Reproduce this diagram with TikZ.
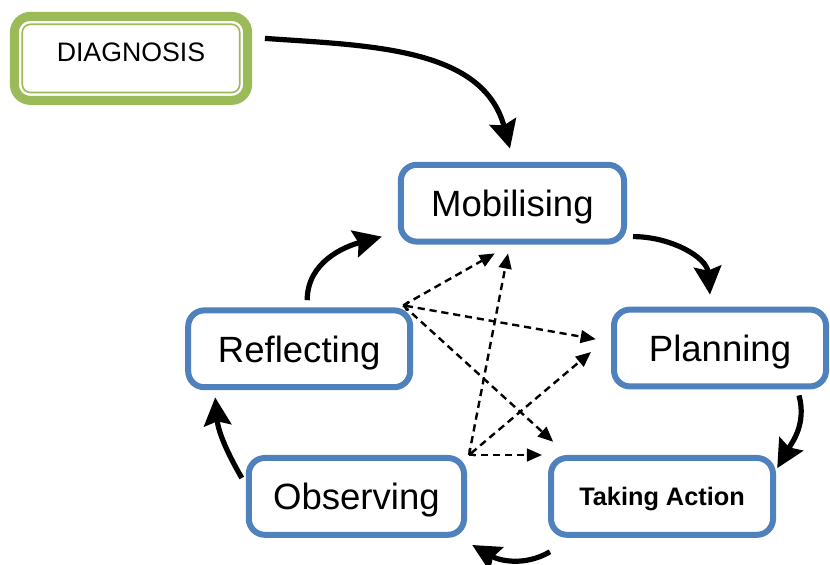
\documentclass[tikz,border=0pt]{standalone}
\usepackage{fontspec}
\setmainfont{Liberation Sans}
\usepackage{tikz}
\usetikzlibrary{arrows.meta}
\definecolor{stageblue}{RGB}{79,129,189}
\definecolor{diaggreen}{RGB}{155,187,89}

\begin{document}
\begin{tikzpicture}
     [
     >={Triangle[length=0.38cm,width=0.32cm]},
     diagbox/.style={rectangle, rounded corners=0.4cm, draw=diaggreen, fill=white, line width=0.225cm, minimum width=5.83cm, minimum height=2.1cm, font=\fontsize{19}{22}\selectfont, text depth=0.33cm},
     stagebox/.style={rectangle, rounded corners=0.4cm, draw=stageblue, fill=white, line width=0.15cm, minimum height=1.92cm, font=\fontsize{26}{30}\selectfont, text depth=0pt},
     cyclearrow/.style={line width=0.13cm, -{Stealth[length=0.7cm,width=0.68cm,inset=0.1cm]}},
     linkarrow/.style={line width=0.06cm, dash pattern=on 0.18cm off 0.12cm, ->},
     ]
 \useasboundingbox (0,0) rectangle (20.75,-14.125);
 \node at (3.275,-1.46) [diagbox] (diag) {DIAGNOSIS};
 \draw[diaggreen, line width=0.04cm, rounded corners=0.2cm] ([shift={(0.31,-0.31)}]diag.north west) rectangle ([shift={(-0.31,0.31)}]diag.south east);
 \node at (12.81,-5.08) [stagebox, minimum width=5.58cm] (mob) {Mobilising};
 \node at (18.0,-8.70) [stagebox, minimum width=5.3cm] (plan) {Planning};
 \node at (16.55,-12.41) [stagebox, minimum width=5.55cm, font=\fontsize{18}{22}\selectfont\bfseries] (act) {Taking Action};
 \node at (8.91,-12.41) [stagebox, minimum width=5.38cm] (obs) {Observing};
 \node at (7.48,-8.72) [stagebox, minimum width=5.55cm] (refl) {Reflecting};

 % the cycle
 \draw[cyclearrow] ([shift={(0.32,0.5)}]diag.east) to[out=-4,in=105] ([shift={(-0.06,0.33)}]mob.north);
 \draw[cyclearrow] ([shift={(0.15,0.2)}]mob.south east) to[out=0,in=95] ([shift={(-0.25,0.3)}]plan.north);
 \draw[cyclearrow] ([shift={(-0.75,-0.15)}]plan.south east) to[out=-75,in=60] ([shift={(0.03,-0.33)}]act.north east);
 \draw[cyclearrow] ([shift={(0.05,-0.35)}]act.south west) to[out=-150,in=-30] ([shift={(0.13,-0.18)}]obs.south east);
 \draw[cyclearrow] ([shift={(-0.1,0.46)}]obs.west) to[out=120,in=-85] ([shift={(0.75,-0.18)}]refl.south west);
 \draw[cyclearrow] ([shift={(0.2,0.18)}]refl.north) to[out=90,in=195] ([shift={(-0.4,0.2)}]mob.south west);

 % dashed links
 \coordinate (rc) at ([xshift=-0.25cm,yshift=0.05cm]refl.north east);
 \coordinate (oc) at ([xshift=0.05cm]obs.north east);
 \draw[linkarrow] (rc) -- ([shift={(-0.44,-0.22)}]mob.south);
 \draw[linkarrow, {Straight Barb[length=0.08cm,width=0.22cm]}->] (rc) -- ([shift={(-0.38,0.22)}]plan.west);
 \draw[linkarrow] (rc) -- ([shift={(0.13,0.33)}]act.north west);
 \draw[linkarrow] (oc) -- ([shift={(-0.11,-0.22)}]mob.south);
 \draw[linkarrow, {Straight Barb[length=0.08cm,width=0.22cm]}->] (oc) -- ([shift={(-0.5,-0.1)}]plan.west);
 \draw[linkarrow] (oc) -- ([xshift=-0.15cm]act.north west);
\end{tikzpicture}
\end{document}
